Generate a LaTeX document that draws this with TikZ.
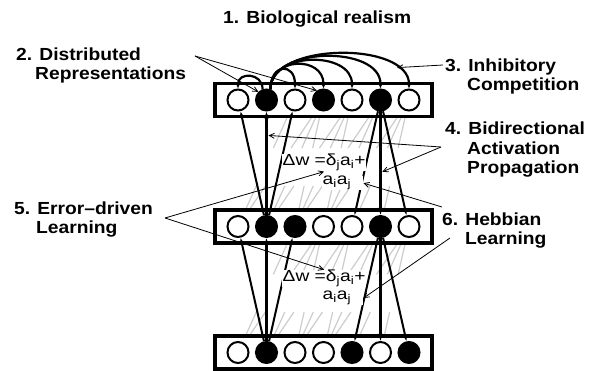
\documentclass[tikz,border=0pt]{standalone}
\usepackage{fontspec}
\setmainfont{Liberation Sans}[FakeStretch=1.2]
\newfontfamily\labfont{Liberation Sans}[FakeStretch=1.1]
\usetikzlibrary{arrows.meta,calc,backgrounds}

\colorlet{u0}{white}
\colorlet{u1}{black}
\tikzset{
  unit/.style={circle,draw,line width=2pt,minimum size=21pt,inner sep=0pt},
  layerbox/.style={draw,fill=white,line width=3.8pt,minimum width=216.5pt,minimum height=33pt,inner sep=0pt},
  wire/.style={line width=2pt,-{Latex[length=6pt,width=5pt]}},
  bigwire/.style={line width=3.5pt,-{Latex[length=7pt,width=6pt]}},
  inhib/.style={line width=2.2pt,-{Latex[length=5pt,width=5pt]}},
  pointer/.style={line width=0.8pt,-{Straight Barb[length=5pt,width=5pt]}},
  lab/.style={font=\labfont\bfseries\fontsize{17.5}{19.5}\selectfont,align=left,inner sep=0pt,anchor=base west},
  formula/.style={font=\fontsize{16}{18}\selectfont,fill=white,inner sep=0.5pt,anchor=base west},
  faint/.style={gray!40,line width=1.2pt}
}

\begin{document}
\begin{tikzpicture}[x=1pt,y=-1pt]
  \useasboundingbox (0,0) rectangle (590,371);

  % the three layers of units
  \foreach \lay/\yy/\pat in {t/100/{0,1,0,1,0,1,0},m/226.5/{0,1,1,0,0,1,0},b/352.5/{0,1,0,0,1,0,1}}{
    \node[layerbox] (\lay-layer) at (323.5,\yy) {};
    \foreach \f [count=\i] in \pat {
      \node[unit,fill=u\f] (\lay\i) at ({238+28.5*(\i-1)},\yy) {};
    }
  }

  % all-to-all weights, faint
  \begin{scope}[on background layer]
    \foreach \up/\lo in {t/m,m/b}{
      \foreach \i in {3,...,7}{
        \pgfmathtruncatemacro\k{\i-1}
        \pgfmathtruncatemacro\s{max(1,\i-3)}
        \foreach \j in {\s,...,\k}{
          \draw[faint] (\up\i) -- ($(\up\i)!0.38!(\lo\j)$);
          \draw[faint] ($(\up\i)!0.68!(\lo\j)$) -- (\lo\j);
        }
      }
    }
  \end{scope}

  % lateral inhibition in the top layer
  \draw[inhib] (t2.110) .. controls +(0,-16.7) and +(0,-16.7) .. (t1.north);
  \draw[inhib] (t2.70) .. controls +(0,-26) and +(0,-26) .. (t3.north);
  \draw[inhib] (t2.70) .. controls +(0,-32.7) and +(0,-32.7) .. (t4.north);
  \draw[inhib] (t2.70) .. controls +(0,-38) and +(0,-38) .. (t5.north);
  \draw[inhib] (t2.70) .. controls +(0,-43.3) and +(0,-43.3) .. (t6.north);
  \draw[inhib] (t2.70) .. controls +(0,-47.3) and +(0,-47.3) .. coordinate[pos=0.82] (arc7) (t7.north);

  % bidirectional connections
  \draw[wire] (m2) -- (t1);
  \draw[bigwire] (m2) -- coordinate[pos=0.77] (upline) (t2);
  \draw[wire] (m2) -- (t3);
  \draw[wire] (t6) -- (m5);
  \draw[bigwire] (t6) -- coordinate[pos=0.59] (downline) (m6);
  \draw[wire] (t6) -- (m7);
  \draw[wire] (b2) -- (m1);
  \draw[bigwire] (b2) -- (m2);
  \draw[wire] (b2) -- (m3);
  \draw[wire] (m6) -- (b5);
  \draw[bigwire] (m6) -- (b6);
  \draw[wire] (m6) -- (b7);

  % learning rule
  \node[formula] (f1a) at (282,166) {Δw =δ\textsubscript{j}a\textsubscript{i}+};
  \node[formula,text width=40pt] (f1b) at (322,185) {a\textsubscript{i}a\textsubscript{j}};
  \node[formula] (f2a) at (282,282) {Δw =δ\textsubscript{j}a\textsubscript{i}+};
  \node[formula,text width=40pt] (f2b) at (322,300) {a\textsubscript{i}a\textsubscript{j}};

  % principles
  \node[lab] (title) at (223,24) {1. Biological realism};
  \node[lab] (lab2) at (16,80) {2. Distributed\\\hspace*{19pt}Representations};
  \node[lab] (lab3) at (445,91) {3. Inhibitory\\\hspace*{22pt}Competition};
  \node[lab] (lab4) at (445,174) {4. Bidirectional\\\hspace*{22pt}Activation\\\hspace*{22pt}Propagation};
  \node[lab] (lab5) at (14,234) {5. Error–driven\\\hspace*{22pt}Learning};
  \node[lab] (lab6) at (442,245) {6. Hebbian\\\hspace*{23pt}Learning};

  \coordinate (p2) at (195,56);
  \coordinate (p3) at (443,65);
  \coordinate (p4) at (441,147);
  \coordinate (p5) at (165,218);
  \coordinate (p6a) at (442,207);
  \coordinate (p6b) at (450,238);
  \draw[pointer] (p2) -- (t2.135);
  \draw[pointer] (p2) -- (t4.125);
  \draw[pointer] (p3) -- (arc7);
  \draw[pointer,shorten >=2pt] (p4) -- (upline);
  \draw[pointer,shorten >=2pt] (p4) -- (downline);
  \draw[pointer] (p5) -- (f1a.south);
  \draw[pointer] (p5) -- (f2a.north);
  \draw[pointer] (p6a) -- (f1b.east);
  \draw[pointer] (p6b) -- (f2b.east);
\end{tikzpicture}
\end{document}
